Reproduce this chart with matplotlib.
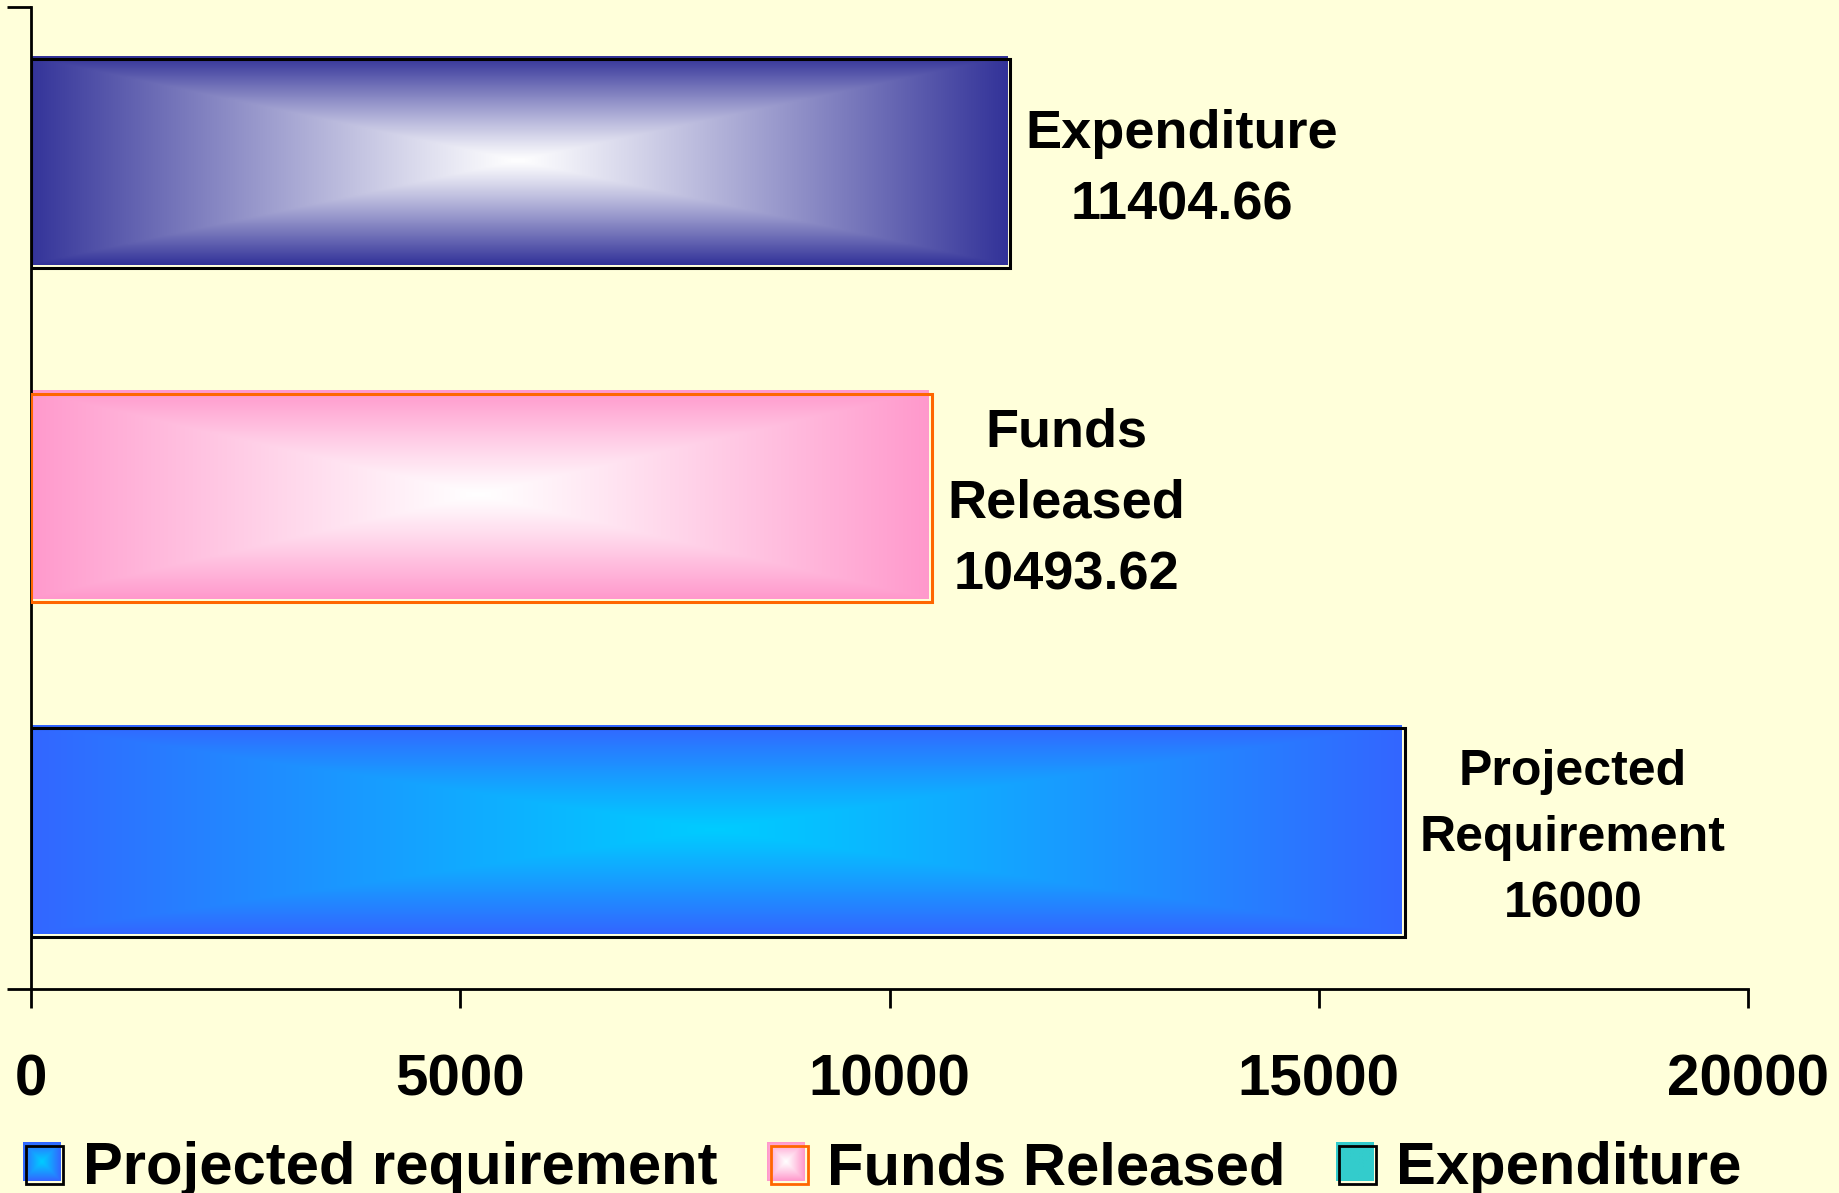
import numpy as np
import matplotlib
matplotlib.use('Agg')
import matplotlib.pyplot as plt
import matplotlib.transforms as mtransforms
from matplotlib.patches import Rectangle
from matplotlib.legend_handler import HandlerBase
from matplotlib.image import BboxImage
from matplotlib.transforms import Bbox, TransformedBbox
from matplotlib.colors import to_rgb

# Data (bottom to top)
categories = ['Projected Requirement', 'Funds Released', 'Expenditure']
values = [16000, 10493.62, 11404.66]
bar_labels = ['Projected\nRequirement\n16000', 'Funds\nReleased\n10493.62', 'Expenditure\n11404.66']
legend_labels = ['Projected requirement', 'Funds Released', 'Expenditure']
x_ticks = [0, 5000, 10000, 15000, 20000]

# gradient colours: outer edge -> centre
edge_colors = ['#3366FF', '#FF99CC', '#333399']
center_colors = ['#00CCFF', '#FFFFFF', '#FFFFFF']
outline_colors = ['black', '#FF6600', 'black']
label_sizes = [36, 39, 39]
legend_edge = ['#3366FF', '#FF99CC', '#33CCCC']
legend_center = ['#00CCFF', '#FFFFFF', '#33CCCC']

BG = '#FFFFDA'
plt.rcParams['font.family'] = ['Liberation Sans', 'DejaVu Sans']
plt.rcParams['font.weight'] = 'bold'


def gradient(c_edge, c_center, nx=300, ny=120):
    # rectangular "from centre" gradient like the office fill
    U, V = np.meshgrid(np.linspace(-1, 1, nx), np.linspace(-1, 1, ny))
    t = np.maximum(np.abs(U), np.abs(V)) ** 1.1
    e = np.array(to_rgb(c_edge))
    c = np.array(to_rgb(c_center))
    return c * (1 - t[..., None]) + e * t[..., None]


class GradientHandler(HandlerBase):
    def __init__(self, c_edge, c_center, outline):
        super().__init__()
        self.c_edge, self.c_center, self.outline = c_edge, c_center, outline

    def create_artists(self, legend, orig_handle, xdescent, ydescent,
                       width, height, fontsize, trans):
        x0, y0 = -xdescent, -ydescent
        bb = TransformedBbox(Bbox.from_bounds(x0 - 1.5, y0 + 1.5, width, height), trans)
        img = BboxImage(bb, interpolation='bilinear')
        img.set_data(gradient(self.c_edge, self.c_center, 40, 40))
        rect = Rectangle((x0 + 1, y0 - 1), width, height, facecolor='none',
                         edgecolor=self.outline, linewidth=2, transform=trans)
        return [img, rect]


fig = plt.figure(figsize=(18.39, 11.93), dpi=100, facecolor=BG)
ax = fig.add_axes([31 / 1839, 204 / 1193, (1748 - 31) / 1839, (1186 - 204) / 1193])
ax.set_facecolor(BG)

ypos = np.arange(len(categories))
bar_h = 0.625
shift = mtransforms.offset_copy(ax.transData, fig=fig, x=-3, y=3, units='dots')

bars = ax.barh(ypos, values, height=bar_h, facecolor='none',
               edgecolor=outline_colors, linewidth=2.2, zorder=3)
for bar, ce, cc in zip(bars, edge_colors, center_colors):
    x0, y0 = bar.get_x(), bar.get_y()
    w, h = bar.get_width(), bar.get_height()
    ax.imshow(gradient(ce, cc), extent=(x0, x0 + w, y0, y0 + h), aspect='auto',
              interpolation='bilinear', transform=shift, zorder=2)

for v, y, txt, fs in zip(values, ypos, bar_labels, label_sizes):
    ax.annotate(txt, xy=(v, y), xytext=(11, -4.3), textcoords='offset points',
                ha='left', va='center', multialignment='center',
                fontsize=fs, fontweight='bold', linespacing=1.55, zorder=4)

ax.set_xlim(0, 20000)
ax.set_ylim(-0.469, 2.469)
ax.set_xticks(x_ticks)
ax.set_xticklabels([str(t) for t in x_ticks])
ax.set_yticks(ax.get_ylim())
ax.set_yticklabels(['', ''])

for s in ['top', 'right']:
    ax.spines[s].set_visible(False)
for s in ['left', 'bottom']:
    ax.spines[s].set_linewidth(2)
ax.tick_params(axis='x', direction='out', length=13.7, width=2, pad=33, labelsize=42)
ax.tick_params(axis='y', direction='out', length=17.3, width=2)

proxies = [Rectangle((0, 0), 1, 1) for _ in legend_labels]
handler_map = {p: GradientHandler(e, c, o)
               for p, e, c, o in zip(proxies, legend_edge, legend_center, outline_colors)}
fig.legend(proxies, legend_labels, handler_map=handler_map, loc='center left',
           bbox_to_anchor=(25 / 1839, 1 - 1169 / 1193), ncol=3, frameon=False,
           borderpad=0, borderaxespad=0, handlelength=0.62, handleheight=0.62,
           handletextpad=0.35, columnspacing=0.87,
           prop={'size': 43, 'weight': 'bold'})

fig.savefig('out.png', dpi=100, facecolor=BG)
